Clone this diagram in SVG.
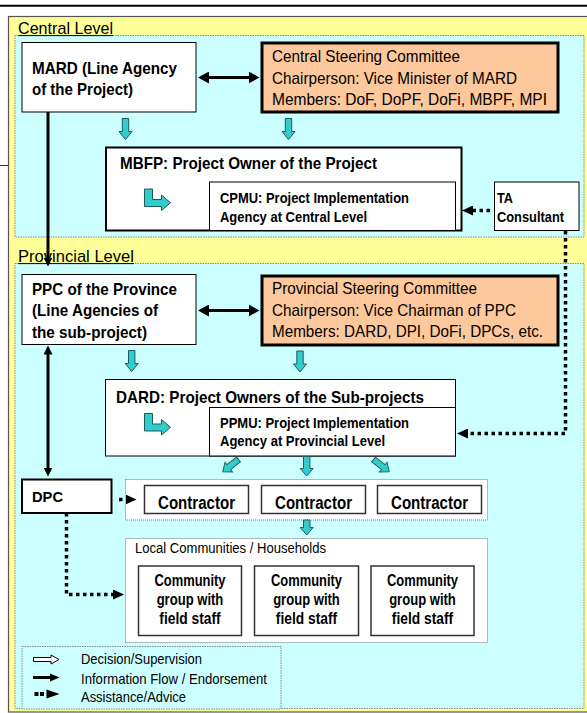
<svg xmlns="http://www.w3.org/2000/svg" xmlns:xlink="http://www.w3.org/1999/xlink" width="587" height="713" viewBox="0 0 587 713">
<style>
text{font-family:"Liberation Sans",Arial,sans-serif;fill:#000}
.b{font-weight:bold}
.lvl{font-size:17px}
.big{font-size:17px}
.mid{font-size:14.5px}
.ctr{font-size:18px;font-weight:bold}
.com{font-size:16px;font-weight:bold}
.small{font-size:14px}
.leg{font-size:15px}
.wbox{fill:#fff;stroke:#000;stroke-width:1}
.wbox2{fill:#fff;stroke:#000;stroke-width:2}
.cbox{fill:#fdc89c;stroke:#000;stroke-width:3}
.gbox{fill:#fff;stroke:#333;stroke-width:1.5}
.cont{fill:#fff;stroke:#777;stroke-width:1;stroke-dasharray:1 1}
.cyan{fill:#ccffff;stroke:#888;stroke-width:1;stroke-dasharray:1.5 1}
.blk{fill:#33cccc;stroke:#1d5a5a;stroke-width:1}
.solid{fill:none;stroke:#000;stroke-width:3}
.dot{fill:none;stroke:#000;stroke-width:3.5;stroke-dasharray:3.5 3.5}
</style>
<defs>
<marker id="ah" markerUnits="userSpaceOnUse" markerWidth="11" markerHeight="12" refX="0.5" refY="6" orient="auto-start-reverse"><path d="M0,0 L11,6 L0,12 Z" fill="#000"/></marker>
<marker id="ahs" markerUnits="userSpaceOnUse" markerWidth="9" markerHeight="9" refX="0.5" refY="4.5" orient="auto-start-reverse"><path d="M0,0 L9,4.5 L0,9 Z" fill="#000"/></marker>
<marker id="ahd" markerUnits="userSpaceOnUse" markerWidth="11" markerHeight="10" refX="0.5" refY="5" orient="auto"><path d="M0,0 L11,5 L0,10 Z" fill="#000"/></marker>
<path id="ba" d="M-3.2,0 H3.2 V13 H6.5 L0,21 L-6.5,13 H-3.2 Z"/>
<path id="bent" d="M0,0 H8 V10.5 H17 V6 L26,13.75 L17,21.5 V17.5 H0 Z"/>
</defs>

<line x1="0" y1="5.8" x2="587" y2="5.8" stroke="#000" stroke-width="2"/>
<line x1="0" y1="165.5" x2="8" y2="165.5" stroke="#333" stroke-width="1"/>

<g id="frame">
<rect x="8.5" y="16.5" width="582" height="695.5" fill="#ffff99" stroke="#555" stroke-width="1.2"/>
</g>

<g id="central-level">
<rect class="cyan" x="15" y="35.5" width="569" height="201.5"/>
<text class="lvl" x="18" y="33.5" textLength="95" lengthAdjust="spacingAndGlyphs">Central Level</text>
<line x1="18" y1="35.6" x2="113" y2="35.6" stroke="#000" stroke-width="1"/>
</g>

<g id="provincial-level">
<rect class="cyan" x="15" y="263.5" width="569" height="445"/>
<text class="lvl" x="18" y="261.5" textLength="116" lengthAdjust="spacingAndGlyphs">Provincial Level</text>
<line x1="18" y1="263.6" x2="134" y2="263.6" stroke="#000" stroke-width="1"/>
</g>

<g id="mard">
<rect class="wbox" x="22" y="42.5" width="174" height="69.5"/>
<text class="big b" x="32" y="73.5" textLength="145" lengthAdjust="spacingAndGlyphs">MARD (Line Agency</text>
<text class="big b" x="32" y="94.5" textLength="101" lengthAdjust="spacingAndGlyphs">of the Project)</text>
</g>

<g id="csc">
<rect class="cbox" x="262" y="43" width="296" height="69"/>
<text class="big" x="272" y="62" textLength="188" lengthAdjust="spacingAndGlyphs">Central Steering Committee</text>
<text class="big" x="272" y="83.5" textLength="245" lengthAdjust="spacingAndGlyphs">Chairperson: Vice Minister of MARD</text>
<text class="big" x="272" y="105" textLength="275" lengthAdjust="spacingAndGlyphs">Members: DoF, DoPF, DoFi, MBPF, MPI</text>
</g>

<g id="mbfp">
<rect class="wbox2" x="106" y="147.5" width="355.5" height="83"/>
<text class="big b" x="120" y="168.5" textLength="257" lengthAdjust="spacingAndGlyphs">MBFP: Project Owner of the Project</text>
<use href="#bent" class="blk" transform="translate(144.5,189)"/>
</g>

<g id="cpmu">
<rect class="wbox" x="209.5" y="182" width="246" height="48.5" stroke-width="1.5"/>
<text class="mid b" x="220" y="202.5" textLength="189" lengthAdjust="spacingAndGlyphs">CPMU: Project Implementation</text>
<text class="mid b" x="220" y="221.5" textLength="147" lengthAdjust="spacingAndGlyphs">Agency at Central Level</text>
</g>

<g id="ta">
<rect class="wbox" x="494.5" y="182" width="84.5" height="48.5"/>
<text class="b" font-size="15" x="497" y="203" textLength="16" lengthAdjust="spacingAndGlyphs">TA</text>
<text class="b" font-size="15" x="497" y="221.5" textLength="67" lengthAdjust="spacingAndGlyphs">Consultant</text>
</g>

<g id="ppc">
<rect class="wbox" x="22" y="274.5" width="174" height="70"/>
<text class="big b" x="32" y="294.5" textLength="145" lengthAdjust="spacingAndGlyphs">PPC of the Province</text>
<text class="big b" x="32" y="316" textLength="126" lengthAdjust="spacingAndGlyphs">(Line Agencies of</text>
<text class="big b" x="32" y="338" textLength="115" lengthAdjust="spacingAndGlyphs">the sub-project)</text>
</g>

<g id="psc">
<rect class="cbox" x="262" y="276" width="296" height="69"/>
<text class="big" x="272" y="294" textLength="205" lengthAdjust="spacingAndGlyphs">Provincial Steering Committee</text>
<text class="big" x="272" y="315.5" textLength="244" lengthAdjust="spacingAndGlyphs">Chairperson: Vice Chairman of PPC</text>
<text class="big" x="272" y="337" textLength="271" lengthAdjust="spacingAndGlyphs">Members: DARD, DPI, DoFi, DPCs, etc.</text>
</g>

<g id="dard">
<rect class="wbox" x="105.5" y="379.5" width="350" height="76.5"/>
<text class="big b" x="116" y="402.5" textLength="308" lengthAdjust="spacingAndGlyphs">DARD: Project Owners of the Sub-projects</text>
<use href="#bent" class="blk" transform="translate(144.5,413.5)"/>
</g>

<g id="ppmu">
<rect class="wbox" x="209.5" y="407.5" width="246" height="48.5"/>
<text class="mid b" x="220" y="427.5" textLength="189" lengthAdjust="spacingAndGlyphs">PPMU: Project Implementation</text>
<text class="mid b" x="220" y="446" textLength="165" lengthAdjust="spacingAndGlyphs">Agency at Provincial Level</text>
</g>

<g id="dpc">
<rect class="wbox2" x="22" y="479.5" width="89.5" height="33.5"/>
<text class="b" font-size="15" x="32" y="502" textLength="31" lengthAdjust="spacingAndGlyphs">DPC</text>
</g>

<g id="contractors">
<rect class="cont" x="125.5" y="479.5" width="362" height="40.5"/>
</g>
<g id="contractor-1">
<rect class="gbox" x="144.5" y="485.5" width="104" height="28"/>
<text class="ctr" x="196.5" y="508.5" text-anchor="middle" textLength="77" lengthAdjust="spacingAndGlyphs">Contractor</text>
</g>
<g id="contractor-2">
<rect class="gbox" x="261.5" y="485.5" width="104" height="28"/>
<text class="ctr" x="313.5" y="508.5" text-anchor="middle" textLength="77" lengthAdjust="spacingAndGlyphs">Contractor</text>
</g>
<g id="contractor-3">
<rect class="gbox" x="377.5" y="485.5" width="104" height="28"/>
<text class="ctr" x="429.5" y="508.5" text-anchor="middle" textLength="77" lengthAdjust="spacingAndGlyphs">Contractor</text>
</g>

<g id="communities">
<rect class="cont" x="125.5" y="538.5" width="362" height="104"/>
<text class="small" x="135" y="552.5" textLength="191" lengthAdjust="spacingAndGlyphs">Local Communities / Households</text>
</g>
<g id="community-1">
<rect class="gbox" x="138.5" y="566" width="103" height="69.5"/>
<text class="com" x="190" y="585.5" text-anchor="middle" textLength="71" lengthAdjust="spacingAndGlyphs">Community</text>
<text class="com" x="190" y="605" text-anchor="middle" textLength="66.7" lengthAdjust="spacingAndGlyphs">group with</text>
<text class="com" x="190" y="624" text-anchor="middle" textLength="61.3" lengthAdjust="spacingAndGlyphs">field staff</text>
</g>
<g id="community-2">
<rect class="gbox" x="254.5" y="566" width="104" height="69.5"/>
<text class="com" x="306.5" y="585.5" text-anchor="middle" textLength="71" lengthAdjust="spacingAndGlyphs">Community</text>
<text class="com" x="306.5" y="605" text-anchor="middle" textLength="66.7" lengthAdjust="spacingAndGlyphs">group with</text>
<text class="com" x="306.5" y="624" text-anchor="middle" textLength="61.3" lengthAdjust="spacingAndGlyphs">field staff</text>
</g>
<g id="community-3">
<rect class="gbox" x="371" y="566" width="103" height="69.5"/>
<text class="com" x="422.5" y="585.5" text-anchor="middle" textLength="71" lengthAdjust="spacingAndGlyphs">Community</text>
<text class="com" x="422.5" y="605" text-anchor="middle" textLength="66.7" lengthAdjust="spacingAndGlyphs">group with</text>
<text class="com" x="422.5" y="624" text-anchor="middle" textLength="61.3" lengthAdjust="spacingAndGlyphs">field staff</text>
</g>

<g id="connectors">
<line class="solid" x1="208.5" y1="77.5" x2="249" y2="77.5" marker-start="url(#ah)" marker-end="url(#ah)"/>
<line class="solid" x1="48" y1="112" x2="48" y2="258" marker-end="url(#ahs)"/>
<line class="solid" x1="208.5" y1="310.5" x2="249" y2="310.5" marker-start="url(#ah)" marker-end="url(#ah)"/>
<line class="solid" x1="48" y1="354" x2="48" y2="468" marker-start="url(#ahs)" marker-end="url(#ahs)"/>
<path class="dot" d="M490,210.5 H472.5" marker-end="url(#ahd)"/>
<path class="dot" d="M565.5,231 V433.5 H467.5" marker-end="url(#ahd)"/>
<path class="dot" d="M119,499.5 H126" stroke-dasharray="4 10" marker-end="url(#ahd)"/>
<path class="dot" d="M66.5,513 V594.5 H113.5" marker-end="url(#ahd)"/>
<use href="#ba" class="blk" transform="translate(125.5,118.5)"/>
<use href="#ba" class="blk" transform="translate(288.5,118.5)"/>
<use href="#ba" class="blk" transform="translate(131.7,350.5)"/>
<use href="#ba" class="blk" transform="translate(300,351)"/>
<use href="#ba" class="blk" transform="translate(306.7,456.5) scale(1,0.93)"/>
<use href="#ba" class="blk" transform="translate(238.5,459.5) rotate(52) scale(0.95)"/>
<use href="#ba" class="blk" transform="translate(373.5,459.5) rotate(-52) scale(0.95)"/>
<path class="blk" d="M303.5,520 H310 V527.5 H313.2 L306.7,535 L300.2,527.5 H303.5 Z"/>
</g>

<g id="legend">
<rect class="cyan" x="22" y="646.5" width="259" height="62.5"/>
<path d="M33.5,657.5 H51 V655 L59,659.5 L51,664 V661.5 H33.5 Z" fill="#fff" stroke="#000" stroke-width="1"/>
<line x1="33" y1="677.5" x2="51" y2="677.5" stroke="#000" stroke-width="3"/>
<path d="M50,673.5 L59.5,677.5 L50,681.5 Z" fill="#000"/>
<rect x="34.5" y="692" width="4" height="4" fill="#000"/>
<rect x="40" y="692" width="4" height="4" fill="#000"/>
<path d="M46.5,689.5 L59.5,694 L46.5,698.5 Z" fill="#000"/>
<text class="leg" x="81" y="663.5" textLength="121" lengthAdjust="spacingAndGlyphs">Decision/Supervision</text>
<text class="leg" x="81" y="684" textLength="186" lengthAdjust="spacingAndGlyphs">Information Flow / Endorsement</text>
<text class="leg" x="81" y="701.5" textLength="105" lengthAdjust="spacingAndGlyphs">Assistance/Advice</text>
</g>
</svg>
